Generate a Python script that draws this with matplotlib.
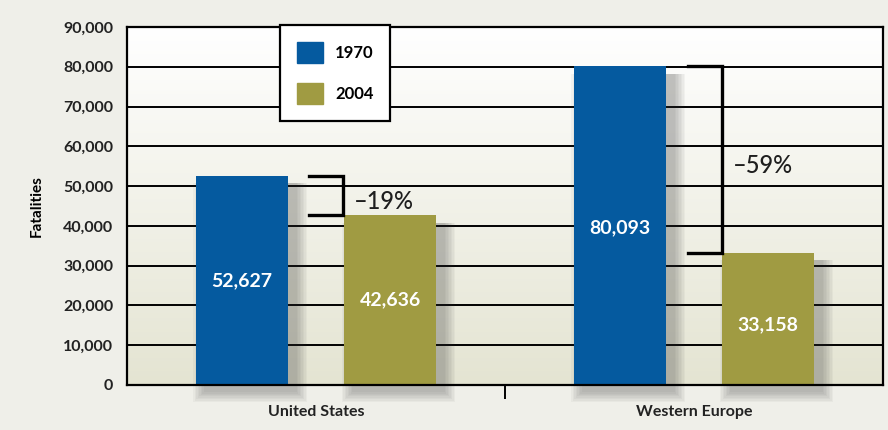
import numpy as np
import matplotlib
matplotlib.use("Agg")
import matplotlib.pyplot as plt
from matplotlib.colors import LinearSegmentedColormap

regions = ["United States", "Western Europe"]
years = ["1970", "2004"]
fat_1970 = [52627, 80093]
fat_2004 = [42636, 33158]
value_labels_1970 = ["52,627", "80,093"]
value_labels_2004 = ["42,636", "33,158"]
changes = ["\u201319%", "\u201359%"]
yticks = list(range(0, 90001, 10000))
ytick_labels = ["0"] + [f"{v:,}" for v in yticks[1:]]

c1970 = "#055a9f"
c2004 = "#a09b42"
font = "Lato"

fig = plt.figure(figsize=(8.88, 4.30), dpi=100)
fig.patch.set_facecolor("#efefe9")
ax = fig.add_axes([127/888, 45/430, 756/888, 358/430])
ax.set_xlim(-0.5, 1.5)
ax.set_ylim(0, 90000)

# gradient background
cmap = LinearSegmentedColormap.from_list("bg", ["#e4e4d2", "#ffffff"])
grad = np.linspace(0, 1, 256).reshape(-1, 1)
ax.imshow(grad, cmap=cmap, aspect="auto", extent=(-0.5, 1.5, 0, 90000),
          origin="lower", zorder=0)

for y in yticks[1:-1]:
    ax.axhline(y, color="black", lw=1.4, zorder=1)

x = np.arange(len(regions))
w = 0.245
off = 0.196

# soft drop shadows (layered translucent bars)
sx = 0.022   # horizontal shadow offset (data units)
sy = 1800    # vertical shadow offset (data units)
for k in range(8):
    grow_w = 0.004 * k
    grow_h = 350 * k
    for xs, vals in ((x - off, fat_1970), (x + off, fat_2004)):
        ax.bar(xs + sx, np.array(vals) + grow_h, w + 2 * grow_w,
               bottom=-sy - grow_h, color="#3a3a3a", alpha=0.045, lw=0, zorder=2,
               clip_on=False)

ax.bar(x - off, fat_1970, w, color=c1970, zorder=3)
ax.bar(x + off, fat_2004, w, color=c2004, zorder=3)

# value labels
lab_frac_1970 = [0.5, 0.495]
lab_frac_2004 = [0.5, 0.455]
for i in range(len(regions)):
    ax.text(x[i] - off, fat_1970[i] * lab_frac_1970[i], value_labels_1970[i],
            ha="center", va="center", color="white", fontsize=14, fontweight="bold",
            family=font, zorder=5)
    ax.text(x[i] + off, fat_2004[i] * lab_frac_2004[i], value_labels_2004[i],
            ha="center", va="center", color="white", fontsize=14, fontweight="bold",
            family=font, zorder=5)

# brackets
brx_left = [-0.018, 0.984]
brx_right = [0.071, 1.074]
for i in range(len(regions)):
    ax.plot([brx_left[i], brx_right[i], brx_right[i], brx_left[i]],
            [fat_1970[i], fat_1970[i], fat_2004[i], fat_2004[i]],
            color="black", lw=2.4, zorder=4, solid_joinstyle="miter")
    ax.text(brx_right[i] + 0.028, (fat_1970[i] + fat_2004[i]) / 2 - 1500,
            changes[i], ha="left", va="center", fontsize=17, family=font,
            fontweight="medium", color="#1e1e1e", zorder=5)

# axes styling
for s in ["left", "right", "top", "bottom"]:
    ax.spines[s].set_color("black")
    ax.spines[s].set_linewidth(1.6)
    ax.spines[s].set_zorder(6)
ax.set_yticks(yticks)
ax.set_yticklabels(ytick_labels, family=font, fontsize=11.5, fontweight="bold", color="#222222")
ax.tick_params(axis="y", length=0, pad=10)
ax.set_xticks([0.5])
ax.set_xticklabels([""])
ax.tick_params(axis="x", length=10, width=1.4, direction="out")
for i, r in enumerate(regions):
    ax.text(x[i], -0.075, r, transform=ax.get_xaxis_transform(), ha="center", va="center",
            family=font, fontsize=11.5, fontweight="bold", color="#222222")
ax.set_ylabel("Fatalities", family=font, fontsize=11, fontweight="bold", labelpad=14)

# legend
handles = [plt.Rectangle((0, 0), 1, 1, color=c1970), plt.Rectangle((0, 0), 1, 1, color=c2004)]
leg = ax.legend(handles, years, loc="upper left", bbox_to_anchor=(153/756, 1.006),
                frameon=True, fancybox=False, framealpha=1, edgecolor="black",
                prop={"family": font, "weight": "bold", "size": 12},
                handlelength=1.6, handleheight=1.6, labelspacing=1.2,
                borderpad=1.0, handletextpad=0.7, borderaxespad=0)
leg.get_frame().set_linewidth(1.6)
leg.set_zorder(7)

fig.savefig("out.png", dpi=100, facecolor=fig.get_facecolor())
